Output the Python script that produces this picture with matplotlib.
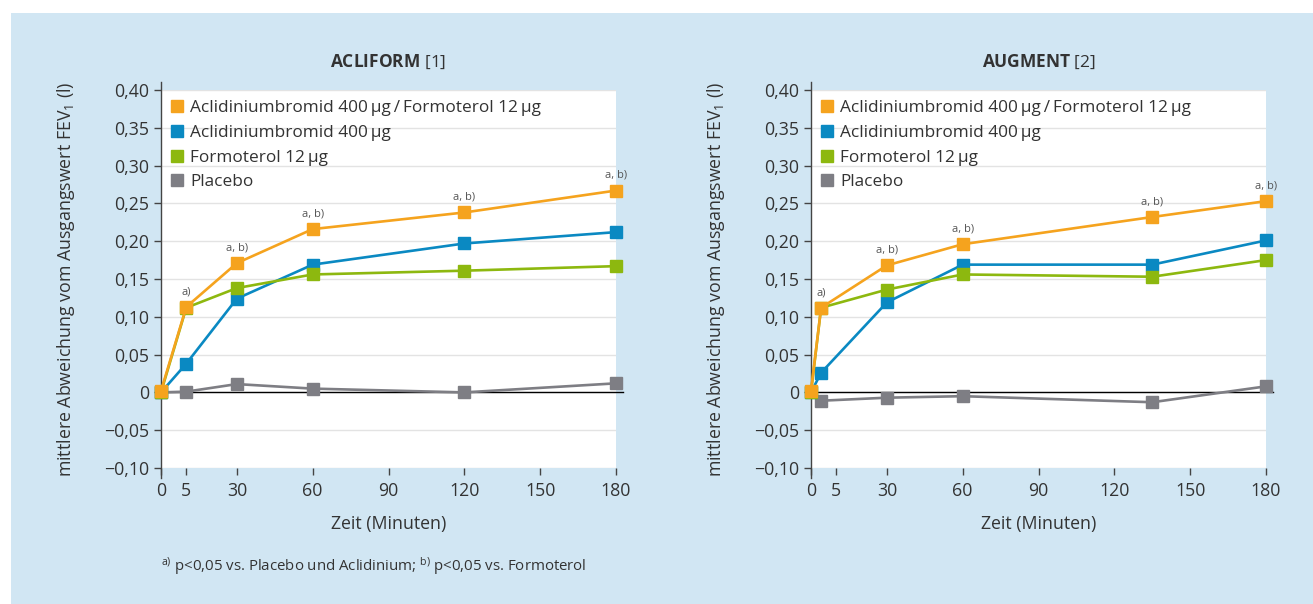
import matplotlib
matplotlib.use("Agg")
import matplotlib.pyplot as plt
from matplotlib.patches import Rectangle
from matplotlib.lines import Line2D

plt.rcParams['font.family'] = ['Open Sans', 'DejaVu Sans']
plt.rcParams['mathtext.fontset'] = 'custom'
plt.rcParams['mathtext.rm'] = 'Open Sans'
plt.rcParams['mathtext.bf'] = 'Open Sans:bold'
plt.rcParams['mathtext.it'] = 'Open Sans:italic'

# --- data ---
series_labels = ["Aclidiniumbromid 400\u2009µg\u2009/\u2009Formoterol 12\u2009µg",
                 "Aclidiniumbromid 400\u2009µg",
                 "Formoterol 12\u2009µg",
                 "Placebo"]
colors = ['#f5a31e', '#0a89c2', '#8db80f', '#7e7e84']

tick_pos = [0, 10, 30, 60, 90, 120, 150, 180]
tick_lab = ['0', '5', '30', '60', '90', '120', '150', '180']

# ACLIFORM (5-min point drawn at the "5" tick)
acli_x = [0, 10, 30, 60, 120, 180]
acli_combo = [0.002, 0.113, 0.171, 0.216, 0.238, 0.267]
acli_acl = [0.000, 0.038, 0.124, 0.169, 0.197, 0.212]
acli_for = [0.000, 0.112, 0.138, 0.156, 0.161, 0.167]
acli_pla = [0.000, 0.001, 0.011, 0.005, 0.000, 0.012]
acli_pla_x = acli_x
acli_notes = ['', 'a)', 'a, b)', 'a, b)', 'a, b)', 'a, b)']

# AUGMENT
aug_x = [0, 4, 30, 60, 135, 180]
aug_combo = [0.002, 0.112, 0.168, 0.196, 0.232, 0.253]
aug_acl = [0.000, 0.026, 0.119, 0.169, 0.169, 0.201]
aug_for = [0.000, 0.112, 0.136, 0.156, 0.153, 0.175]
aug_pla = [-0.011, -0.007, -0.005, -0.013, 0.008]
aug_pla_x = [4, 30, 60, 135, 180]
aug_notes = ['', 'a)', 'a, b)', 'a, b)', 'a, b)', 'a, b)']

yticks = [-0.10, -0.05, 0, 0.05, 0.10, 0.15, 0.20, 0.25, 0.30, 0.35, 0.40]

W, H = 1313, 604
fig = plt.figure(figsize=(W / 100, H / 100), dpi=100, facecolor='white')
fig.patches.append(Rectangle((11 / W, 0), 1 - 11 / W, 1 - 13 / H,
                             transform=fig.transFigure, facecolor='#d1e6f3',
                             edgecolor='none', zorder=-5))

txt = '#333333'


def fmt(v):
    if abs(v) < 1e-9:
        return '0'
    return ('%.2f' % v).replace('.', ',').replace('-', '\u2212')


def panel(left, name, ref, x, combo, acl, form, pla_x, pla, notes):
    ax = fig.add_axes([left / W, 1 - 468 / H, 455 / W, 378 / H])
    ax.set_facecolor('white')
    ax.set_xlim(0, 180)
    ax.set_ylim(-0.10, 0.40)
    for s in ['top', 'right', 'bottom']:
        ax.spines[s].set_visible(False)
    ax.spines['left'].set_color('#444444')
    ax.spines['left'].set_linewidth(1.0)
    ax.spines['left'].set_bounds(-0.113, 0.41)
    ax.set_yticks(yticks)
    ax.set_yticklabels([fmt(v) for v in yticks])
    ax.set_xticks(tick_pos)
    ax.set_xticklabels(tick_lab)
    ax.tick_params(axis='both', direction='out', length=5, width=1,
                   color='#444444', labelcolor=txt, labelsize=12.8)
    ax.tick_params(axis='x', pad=5)
    ax.grid(axis='y', color='#e3e3e3', lw=1)
    ax.set_axisbelow(True)
    ax.axhline(0, color='black', lw=1, xmax=1.015, clip_on=False, zorder=1.5)

    kw = dict(marker='s', markersize=8.5, lw=1.9, clip_on=False)
    ax.plot(pla_x, pla, color=colors[3], zorder=3, **kw)
    ax.plot(x, acl, color=colors[1], zorder=4, **kw)
    ax.plot(x, form, color=colors[2], zorder=5, **kw)
    ax.plot(x, combo, color=colors[0], zorder=6, **kw)

    for xi, yi, n in zip(x, combo, notes):
        if n:
            ax.annotate(n, (xi, yi), xytext=(0, 7), textcoords='offset points',
                        ha='center', va='bottom', fontsize=8, color='#555555')

    handles = [Line2D([], [], ls='none', marker='s', markersize=8.5,
                      color=c) for c in colors]
    ax.legend(handles, series_labels, loc='upper left', frameon=False,
              fontsize=12.4, handlelength=0.6, handletextpad=0.5,
              labelspacing=0.5, borderaxespad=0.0, borderpad=0.6,
              labelcolor=txt)

    ax.set_xlabel('Zeit (Minuten)', fontsize=12.8, color=txt, labelpad=11)
    ax.set_ylabel('mittlere Abweichung vom Ausgangswert FEV$_1$ (l)',
                  fontsize=12.8, color=txt)
    ax.yaxis.set_label_coords(-84 / 455, 0.5)
    ax.set_title(r'$\mathbf{%s}$ [%s]' % (name, ref), fontsize=12.5,
                 color=txt, pad=17)
    return ax


panel(161, 'ACLIFORM', '1', acli_x, acli_combo, acli_acl, acli_for,
      acli_pla_x, acli_pla, acli_notes)
panel(811, 'AUGMENT', '2', aug_x, aug_combo, aug_acl, aug_for,
      aug_pla_x, aug_pla, aug_notes)

fig.text(161 / W, 1 - 566 / H,
         r'$^{\mathrm{a)}}$ p<0,05 vs. Placebo und Aclidinium; $^{\mathrm{b)}}$ p<0,05 vs. Formoterol',
         fontsize=10.8, color=txt, ha='left', va='center')

fig.savefig('out.png', dpi=100, facecolor='white')
